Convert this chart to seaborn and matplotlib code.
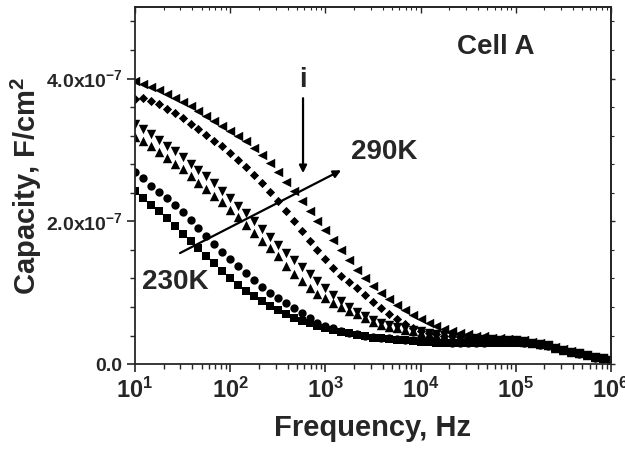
import numpy as np
import pandas as pd
import matplotlib
matplotlib.use("Agg")
import matplotlib.pyplot as plt
import seaborn as sns
from matplotlib.ticker import FixedLocator, LogLocator, MultipleLocator, NullFormatter

# Frequency sweep: 12 points per decade from 10 Hz to 1 MHz
freq = np.logspace(1, 6, 61)

# Capacity in units of 1e-7 F/cm^2 for each temperature
cap_230 = [2.43, 2.33, 2.23, 2.14, 2.04, 1.93, 1.82, 1.72, 1.62, 1.52, 1.41, 1.31,
           1.21, 1.11, 1.03, 0.96, 0.89, 0.82, 0.76, 0.70, 0.65, 0.61, 0.58, 0.54,
           0.51, 0.48, 0.45, 0.43, 0.41, 0.39, 0.37, 0.36, 0.35, 0.34, 0.33, 0.32,
           0.31, 0.31, 0.30, 0.30, 0.29, 0.29, 0.29, 0.29, 0.29, 0.30, 0.30, 0.30,
           0.30, 0.29, 0.28, 0.27, 0.25, 0.22, 0.19, 0.17, 0.14, 0.12, 0.09, 0.07, 0.05]
cap_240 = [2.69, 2.60, 2.50, 2.41, 2.32, 2.23, 2.13, 2.02, 1.91, 1.79, 1.68, 1.57,
           1.47, 1.37, 1.28, 1.18, 1.08, 1.00, 0.92, 0.85, 0.78, 0.71, 0.64, 0.58,
           0.54, 0.50, 0.47, 0.44, 0.42, 0.40, 0.38, 0.37, 0.36, 0.35, 0.34, 0.33,
           0.32, 0.32, 0.31, 0.31, 0.30, 0.30, 0.30, 0.30, 0.30, 0.31, 0.31, 0.31,
           0.31, 0.30, 0.29, 0.27, 0.25, 0.22, 0.19, 0.17, 0.14, 0.12, 0.09, 0.07, 0.05]
cap_250 = [3.18, 3.12, 3.05, 2.97, 2.89, 2.81, 2.73, 2.63, 2.54, 2.45, 2.36, 2.27,
           2.16, 2.06, 1.95, 1.84, 1.73, 1.62, 1.51, 1.38, 1.26, 1.16, 1.06, 0.98,
           0.92, 0.86, 0.80, 0.75, 0.70, 0.64, 0.59, 0.55, 0.52, 0.50, 0.48, 0.46,
           0.44, 0.42, 0.41, 0.39, 0.38, 0.37, 0.36, 0.35, 0.34, 0.34, 0.33, 0.33,
           0.32, 0.31, 0.29, 0.28, 0.26, 0.23, 0.20, 0.17, 0.15, 0.12, 0.10, 0.08, 0.06]
cap_260 = [3.36, 3.29, 3.22, 3.14, 3.06, 2.98, 2.90, 2.81, 2.72, 2.63, 2.53, 2.43,
           2.33, 2.22, 2.11, 2.00, 1.89, 1.78, 1.67, 1.56, 1.46, 1.36, 1.26, 1.16,
           1.06, 0.97, 0.88, 0.80, 0.73, 0.67, 0.62, 0.58, 0.55, 0.52, 0.50, 0.48,
           0.46, 0.44, 0.42, 0.41, 0.40, 0.38, 0.37, 0.36, 0.35, 0.35, 0.34, 0.33,
           0.33, 0.32, 0.30, 0.28, 0.26, 0.23, 0.20, 0.17, 0.15, 0.12, 0.10, 0.08, 0.06]
cap_280 = [3.71, 3.73, 3.69, 3.64, 3.58, 3.52, 3.45, 3.37, 3.29, 3.21, 3.13, 3.05,
           2.96, 2.86, 2.76, 2.65, 2.53, 2.41, 2.28, 2.14, 2.00, 1.87, 1.73, 1.60,
           1.47, 1.35, 1.24, 1.15, 1.06, 0.97, 0.87, 0.78, 0.70, 0.63, 0.56, 0.51,
           0.47, 0.44, 0.42, 0.40, 0.39, 0.38, 0.37, 0.36, 0.35, 0.34, 0.34, 0.33,
           0.33, 0.32, 0.30, 0.28, 0.26, 0.23, 0.20, 0.17, 0.15, 0.12, 0.10, 0.08, 0.06]
cap_290 = [3.96, 3.92, 3.88, 3.84, 3.79, 3.73, 3.67, 3.61, 3.55, 3.48, 3.41, 3.34,
           3.27, 3.20, 3.12, 3.03, 2.93, 2.82, 2.69, 2.55, 2.42, 2.29, 2.15, 2.01,
           1.88, 1.74, 1.60, 1.46, 1.32, 1.20, 1.10, 1.00, 0.91, 0.83, 0.76, 0.69,
           0.63, 0.57, 0.53, 0.49, 0.46, 0.44, 0.42, 0.40, 0.39, 0.37, 0.36, 0.35,
           0.34, 0.33, 0.31, 0.29, 0.27, 0.24, 0.21, 0.18, 0.15, 0.12, 0.10, 0.08, 0.06]

temps = ["230K", "240K", "250K", "260K", "280K", "290K"]
series = [cap_230, cap_240, cap_250, cap_260, cap_280, cap_290]
markers = ["s", "o", "^", "v", "D", "<"]
sizes = [30, 36, 46, 46, 22, 46]

xtick_exps = [1, 2, 3, 4, 5, 6]
ytick_vals = [0.0, 2.0e-7, 4.0e-7]
ytick_labels = ["0.0", "2.0x10$^{-7}$", "4.0x10$^{-7}$"]

df = pd.concat(
    [pd.DataFrame({"freq": freq, "cap": np.array(v) * 1e-7, "temp": t})
     for t, v in zip(temps, series)],
    ignore_index=True,
)

sns.set_style("ticks")
plt.rcParams["font.family"] = ["Liberation Sans", "DejaVu Sans"]
plt.rcParams["font.weight"] = "bold"
plt.rcParams["mathtext.fontset"] = "custom"
plt.rcParams["mathtext.rm"] = "Liberation Sans:bold"
plt.rcParams["mathtext.bf"] = "Liberation Sans:bold"
plt.rcParams["mathtext.it"] = "Liberation Sans:bold:italic"
plt.rcParams["mathtext.default"] = "rm"

fig = plt.figure(figsize=(6.25, 4.5), dpi=100)
ax = fig.add_axes([0.216, 0.191, 0.7616, 0.793])

for t, m, s in zip(temps, markers, sizes):
    sns.scatterplot(data=df[df["temp"] == t], x="freq", y="cap", marker=m, s=s,
                    color="black", linewidth=0, ax=ax, legend=False)

ax.set_xscale("log")
ax.set_xlim(10, 1e6)
ax.set_ylim(0, 5e-7)

ax.xaxis.set_major_locator(FixedLocator([10.0 ** e for e in xtick_exps]))
ax.set_xticklabels([r"$10^{%d}$" % e for e in xtick_exps], fontsize=17)
ax.xaxis.set_minor_locator(LogLocator(base=10, subs=np.arange(2, 10)))
ax.xaxis.set_minor_formatter(NullFormatter())

ax.yaxis.set_major_locator(FixedLocator(ytick_vals))
ax.set_yticklabels(ytick_labels, fontsize=14)
ax.yaxis.set_minor_locator(MultipleLocator(0.4e-7))

ax.tick_params(which="major", direction="out", length=6, width=1.2, pad=3)
ax.tick_params(which="minor", direction="out", length=3.5, width=1.0)
ax.tick_params(axis="x", which="major", pad=4)

for sp in ax.spines.values():
    sp.set_linewidth(1.3)

# mirrored ticks on the top and right edges
top = ax.secondary_xaxis("top")
top.xaxis.set_major_locator(FixedLocator([10.0 ** e for e in xtick_exps]))
top.xaxis.set_minor_locator(LogLocator(base=10, subs=np.arange(2, 10)))
top.xaxis.set_major_formatter(NullFormatter())
top.xaxis.set_minor_formatter(NullFormatter())
top.tick_params(which="major", direction="in", length=4, width=1.0)
top.tick_params(which="minor", direction="in", length=2.5, width=0.8)
top.spines["top"].set_linewidth(1.3)

right = ax.secondary_yaxis("right")
right.yaxis.set_major_locator(FixedLocator(ytick_vals))
right.yaxis.set_minor_locator(MultipleLocator(0.4e-7))
right.yaxis.set_major_formatter(NullFormatter())
right.yaxis.set_minor_formatter(NullFormatter())
right.tick_params(which="major", direction="out", length=3, width=1.0)
right.tick_params(which="minor", direction="out", length=2, width=0.8)
right.spines["right"].set_linewidth(1.3)

ax.set_xlabel("Frequency, Hz", fontsize=21, fontweight="bold", labelpad=8)
ax.set_ylabel("Capacity, F/cm$^{2}$", fontsize=21, fontweight="bold", labelpad=1)

txt = dict(xycoords="axes fraction", ha="center", va="center",
           fontsize=20, fontweight="bold")
ax.annotate("Cell A", xy=(0.758, 0.888), **txt)
ax.annotate("290K", xy=(0.523, 0.594), **txt)
ax.annotate("230K", xy=(0.084, 0.230), **txt)
ax.annotate("i", xy=(0.353, 0.796), **txt)

arrow = dict(arrowstyle="-|>", color="black", lw=1.6, mutation_scale=11,
             shrinkA=0, shrinkB=0)
ax.annotate("", xy=(0.353, 0.535), xytext=(0.353, 0.745),
            xycoords="axes fraction", arrowprops=arrow)
ax.annotate("", xy=(0.433, 0.543), xytext=(0.0945, 0.311),
            xycoords="axes fraction", arrowprops=arrow)

fig.savefig("out.png", dpi=100)
